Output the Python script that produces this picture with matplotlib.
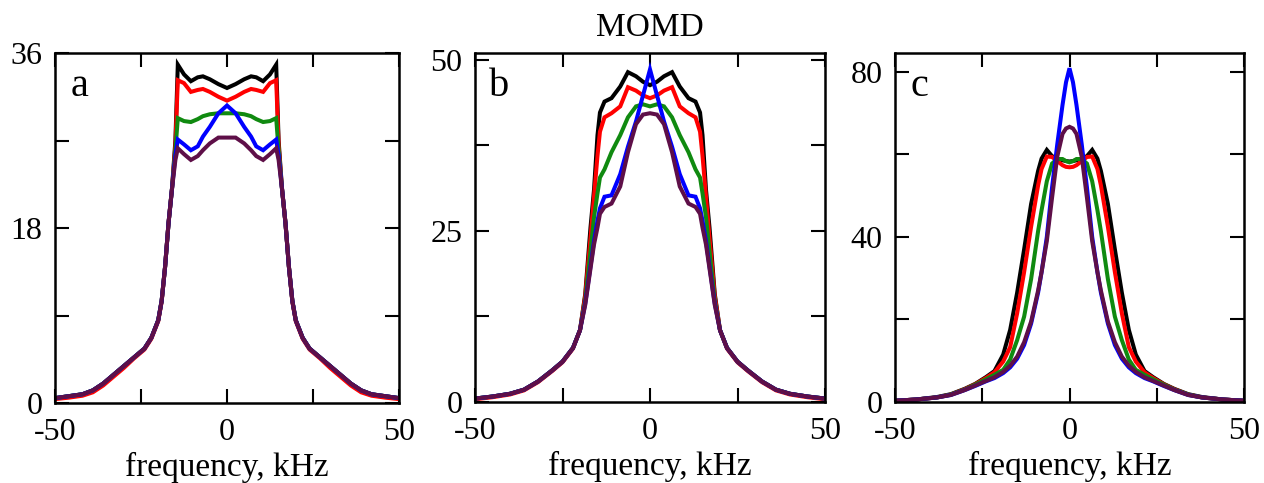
import matplotlib
matplotlib.use("Agg")
import matplotlib.pyplot as plt

plt.rcParams['font.family'] = ['Liberation Serif', 'DejaVu Serif']

# ---------------- data ----------------
series_names = ["black", "red", "green", "blue", "purple"]
series_colors = ["#000000", "#ff0000", "#108a10", "#0000ff", "#5e0f48"]

# Panel a
xa = [-50, -46, -42, -39, -36, -33, -30, -27, -24, -22, -20, -19, -18, -17, -16, -15, -14.3,
      -12.5, -10.5, -8.5, -7, -5, -2.5, 0, 2.5, 5, 7, 8.5, 10.5, 12.5,
      14.3, 15, 16, 17, 18, 19, 20, 22, 24, 27, 30, 33, 36, 39, 42, 46, 50]
a_black = [0.5, 0.7, 0.9, 1.3, 2.0, 2.9, 3.8, 4.7, 5.6, 6.7, 8.5, 10.5, 14.0, 18.5, 22.0, 27.0, 34.8,
           33.8, 33.1, 33.5, 33.6, 33.3, 32.8, 32.4, 32.8, 33.3, 33.6, 33.5, 33.1, 33.8,
           34.8, 27.0, 22.0, 18.5, 14.0, 10.5, 8.5, 6.7, 5.6, 4.7, 3.8, 2.9, 2.0, 1.3, 0.9, 0.7, 0.5]
a_red = [0.4, 0.55, 0.75, 1.1, 1.8, 2.7, 3.6, 4.6, 5.5, 6.6, 8.4, 10.4, 14.0, 18.5, 22.0, 26.5, 33.2,
         32.9, 32.0, 32.2, 32.3, 32.0, 31.5, 31.1, 31.5, 32.0, 32.3, 32.2, 32.0, 32.9,
         33.2, 26.5, 22.0, 18.5, 14.0, 10.4, 8.4, 6.6, 5.5, 4.6, 3.6, 2.7, 1.8, 1.1, 0.75, 0.55, 0.4]
a_green = [0.5, 0.7, 0.9, 1.3, 2.0, 2.9, 3.8, 4.7, 5.6, 6.7, 8.5, 10.5, 14.0, 18.5, 22.0, 26.0, 29.3,
           29.0, 28.9, 29.2, 29.5, 29.7, 29.8, 29.8, 29.8, 29.7, 29.5, 29.2, 28.9, 29.0,
           29.3, 26.0, 22.0, 18.5, 14.0, 10.5, 8.5, 6.7, 5.6, 4.7, 3.8, 2.9, 2.0, 1.3, 0.9, 0.7, 0.5]
a_blue = [0.5, 0.7, 0.9, 1.3, 2.0, 2.9, 3.8, 4.7, 5.6, 6.7, 8.5, 10.5, 14.0, 18.5, 22.0, 25.5, 27.1,
          26.6, 26.0, 26.4, 27.4, 28.4, 29.8, 30.6, 29.8, 28.4, 27.4, 26.4, 26.0, 26.6,
          27.1, 25.5, 22.0, 18.5, 14.0, 10.5, 8.5, 6.7, 5.6, 4.7, 3.8, 2.9, 2.0, 1.3, 0.9, 0.7, 0.5]
a_purple = [0.5, 0.7, 0.9, 1.3, 2.0, 2.9, 3.8, 4.7, 5.6, 6.7, 8.5, 10.5, 14.0, 18.5, 22.0, 25.0, 26.2,
            25.6, 25.0, 25.4, 26.0, 26.7, 27.3, 27.3, 27.3, 26.7, 26.0, 25.4, 25.0, 25.6,
            26.2, 25.0, 22.0, 18.5, 14.0, 10.5, 8.5, 6.7, 5.6, 4.7, 3.8, 2.9, 2.0, 1.3, 0.9, 0.7, 0.5]

# Panel b
xb = [-50, -45, -40, -36, -32, -28, -25, -22, -20, -18.5, -17, -16, -15, -14.3, -13, -11, -8.5, -6.3, -4, -2, 0,
      2, 4, 6.3, 8.5, 11, 13, 14.3, 15, 16, 17, 18.5, 20, 22, 25, 28, 32, 36, 40, 45, 50]
b_black = [0.5, 0.8, 1.2, 1.8, 3.0, 4.6, 5.9, 7.9, 10.5, 15.8, 25.5, 31.0, 39.0, 42.3, 43.9, 44.4, 46.1, 48.2, 47.6, 46.8, 46.3,
           46.8, 47.6, 48.2, 46.1, 44.4, 43.9, 42.3, 39.0, 31.0, 25.5, 15.8, 10.5, 7.9, 5.9, 4.6, 3.0, 1.8, 1.2, 0.8, 0.5]
b_red = [0.4, 0.7, 1.1, 1.7, 2.9, 4.5, 5.8, 7.8, 10.5, 15.5, 24.0, 30.0, 36.0, 39.5, 41.6, 42.2, 43.2, 46.0, 45.5, 44.8, 44.4,
         44.8, 45.5, 46.0, 43.2, 42.2, 41.6, 39.5, 36.0, 30.0, 24.0, 15.5, 10.5, 7.8, 5.8, 4.5, 2.9, 1.7, 1.1, 0.7, 0.4]
b_green = [0.5, 0.8, 1.2, 1.8, 3.0, 4.6, 5.9, 7.9, 10.5, 14.8, 22.0, 27.0, 30.5, 32.8, 34.0, 36.5, 39.0, 41.6, 43.2, 43.5, 43.2,
           43.5, 43.2, 41.6, 39.0, 36.5, 34.0, 32.8, 30.5, 27.0, 22.0, 14.8, 10.5, 7.9, 5.9, 4.6, 3.0, 1.8, 1.2, 0.8, 0.5]
b_blue = [0.5, 0.8, 1.2, 1.8, 3.0, 4.6, 5.9, 7.9, 10.5, 14.4, 19.8, 23.5, 26.5, 28.3, 30.0, 30.2, 33.3, 37.3, 41.0, 44.8, 48.6,
          44.8, 41.0, 37.3, 33.3, 30.2, 30.0, 28.3, 26.5, 23.5, 19.8, 14.4, 10.5, 7.9, 5.9, 4.6, 3.0, 1.8, 1.2, 0.8, 0.5]
b_purple = [0.5, 0.8, 1.2, 1.8, 3.0, 4.6, 5.9, 7.9, 10.5, 14.2, 19.5, 23.0, 25.5, 27.5, 28.5, 29.0, 31.5, 36.5, 40.6, 42.0, 42.2,
            42.0, 40.6, 36.5, 31.5, 29.0, 28.5, 27.5, 25.5, 23.0, 19.5, 14.2, 10.5, 7.9, 5.9, 4.6, 3.0, 1.8, 1.2, 0.8, 0.5]

# Panel c
xc = [-50, -44, -38, -34, -30, -27, -24, -21.5, -19, -17, -15, -13, -11, -9, -8, -6.5, -5, -3.5, -2, -1, 0,
      1, 2, 3.5, 5, 6.5, 8, 9, 11, 13, 15, 17, 19, 21.5, 24, 27, 30, 34, 38, 44, 50]
c_black = [0.3, 0.6, 1.2, 1.9, 3.2, 4.4, 6.0, 7.5, 11.5, 17.5, 26.5, 37.0, 48.0, 56.0, 59.0, 61.1, 59.6, 59.0, 58.6, 58.4, 58.3,
           58.4, 58.6, 59.0, 59.6, 61.1, 59.0, 56.0, 48.0, 37.0, 26.5, 17.5, 11.5, 7.5, 6.0, 4.4, 3.2, 1.9, 1.2, 0.6, 0.3]
c_red = [0.3, 0.6, 1.1, 1.8, 3.1, 4.3, 5.8, 7.2, 9.8, 13.3, 21.5, 31.5, 42.5, 52.5, 56.5, 59.5, 59.4, 58.4, 57.4, 57.0, 56.9,
         57.0, 57.4, 58.4, 59.4, 59.5, 56.5, 52.5, 42.5, 31.5, 21.5, 13.3, 9.8, 7.2, 5.8, 4.3, 3.1, 1.8, 1.1, 0.6, 0.3]
c_green = [0.3, 0.6, 1.1, 1.8, 3.0, 4.2, 5.5, 6.6, 7.8, 10.3, 15.0, 20.7, 29.8, 41.4, 46.5, 53.5, 57.8, 58.9, 58.9, 58.4, 58.1,
           58.4, 58.9, 58.9, 57.8, 53.5, 46.5, 41.4, 29.8, 20.7, 15.0, 10.3, 7.8, 6.6, 5.5, 4.2, 3.0, 1.8, 1.1, 0.6, 0.3]
c_blue = [0.3, 0.6, 1.1, 1.7, 2.9, 3.9, 5.0, 5.8, 7.0, 8.4, 10.5, 13.8, 19.0, 26.5, 31.5, 40.0, 52.0, 62.5, 72.0, 77.5, 80.9,
          77.5, 72.0, 62.5, 52.0, 40.0, 31.5, 26.5, 19.0, 13.8, 10.5, 8.4, 7.0, 5.8, 5.0, 3.9, 2.9, 1.7, 1.1, 0.6, 0.3]
c_purple = [0.3, 0.6, 1.1, 1.7, 2.9, 4.0, 5.1, 6.0, 7.3, 8.8, 11.0, 14.5, 19.5, 27.0, 31.5, 39.0, 49.5, 59.5, 65.0, 66.3, 66.7,
            66.3, 65.0, 59.5, 49.5, 39.0, 31.5, 27.0, 19.5, 14.5, 11.0, 8.8, 7.3, 6.0, 5.1, 4.0, 2.9, 1.7, 1.1, 0.6, 0.3]

panel_labels = ["a", "b", "c"]
x_ticks = [-50, -25, 0, 25, 50]
x_ticklabels = ["-50", "", "0", "", "50"]
ya_ticks = [0, 9, 18, 27, 36]
ya_labels = ["0", "", "18", "", "36"]
yb_ticks = [0, 12.5, 25, 37.5, 50]
yb_labels = ["0", "", "25", "", "50"]
yc_ticks = [0, 20, 40, 60, 80]
yc_labels = ["0", "", "40", "", "80"]
xlabel_text = "frequency, kHz"
title_text = "MOMD"

# ---------------- figure ----------------
W, H = 1264, 483
fig = plt.figure(figsize=(W / 100, H / 100), dpi=100)

def px_axes(left, top, right, bottom):
    return fig.add_axes([left / W, 1 - bottom / H, (right - left) / W, (bottom - top) / H])

axes = [px_axes(55, 53, 399, 403), px_axes(475, 53, 825, 402), px_axes(895, 53, 1244, 402)]

panels = [
    (xa, [a_black, a_red, a_green, a_blue, a_purple], ya_ticks, ya_labels, 36),
    (xb, [b_black, b_red, b_green, b_blue, b_purple], yb_ticks, yb_labels, 51),
    (xc, [c_black, c_red, c_green, c_blue, c_purple], yc_ticks, yc_labels, 84.6),
]

for ax, (x, ys, yt, yl, ytop), lab in zip(axes, panels, panel_labels):
    for y, col in zip(ys, series_colors):
        ax.plot(x, y, color=col, lw=2.9, solid_joinstyle='miter')
    ax.set_xlim(-50, 50)
    ax.set_ylim(0, ytop)
    ax.set_xticks(x_ticks)
    ax.set_xticklabels(x_ticklabels)
    ax.set_yticks(yt)
    ax.set_yticklabels(yl)
    ax.tick_params(direction='in', length=10, width=1.5, top=True, right=True,
                   labelsize=23)
    ax.tick_params(axis='x', pad=11)
    ax.tick_params(axis='y', pad=9)
    for s in ax.spines.values():
        s.set_linewidth(1.8)
    ax.set_xlabel(xlabel_text, fontsize=24, labelpad=3)
    ax.text(0.07, 0.905, lab, transform=ax.transAxes, fontsize=29,
            ha='center', va='center')

fig.text(650 / W, 1 - 28 / H, title_text, ha='center', va='center', fontsize=24)

fig.savefig("out.png", dpi=100)
